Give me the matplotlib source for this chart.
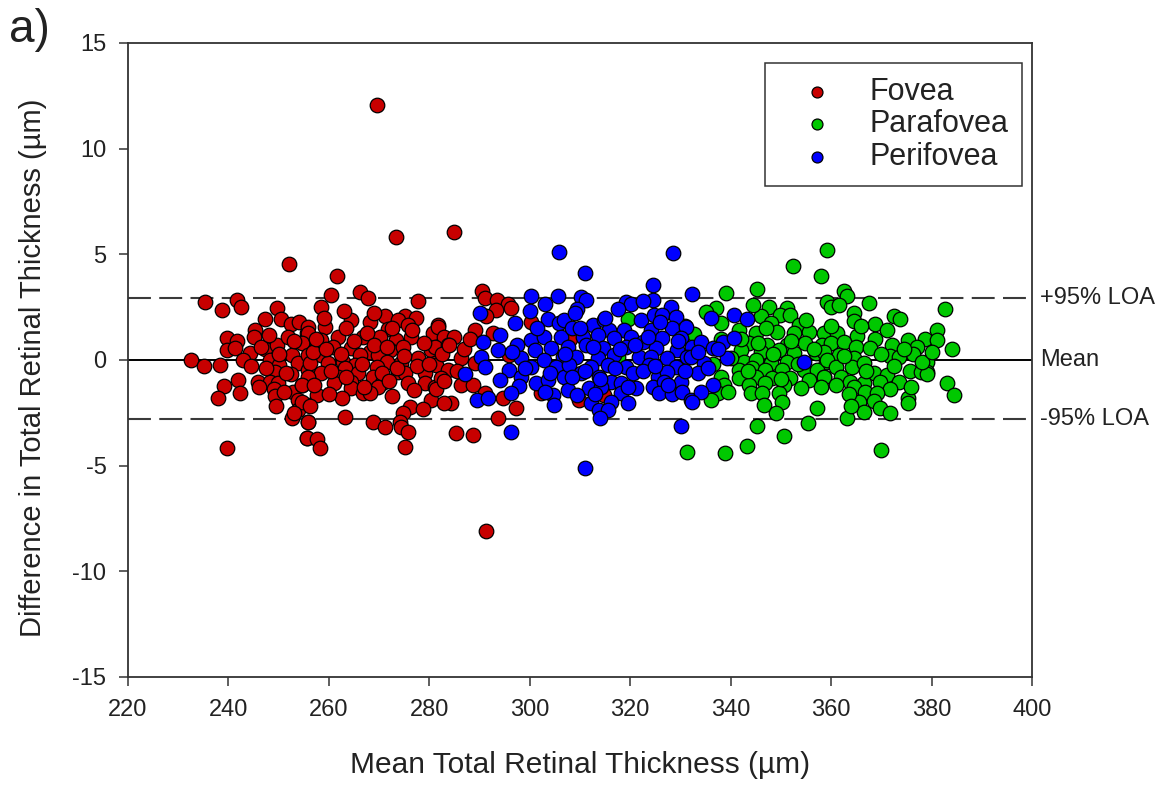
"""Bland-Altman plot of total retinal thickness by macular region."""

import matplotlib

matplotlib.use("Agg")
import matplotlib.pyplot as plt

plt.rcParams["font.family"] = ["Liberation Sans", "DejaVu Sans"]
plt.rcParams["axes.unicode_minus"] = False

# Fovea (red)
fovea_x = [
    252.0, 235.4, 241.7, 242.5, 238.7, 249.6, 247.3, 250.4, 252.5, 254.1, 245.3, 245.0,
    239.7, 241.7, 239.7, 241.3, 244.3, 247.2, 249.6, 251.8, 254.9, 255.6, 232.6, 235.2,
    238.3, 242.8, 248.3, 250.1, 252.6, 253.8, 249.3, 252.5, 255.9, 242.0, 239.2, 245.8,
    248.3, 249.9, 249.1, 252.9, 254.6, 242.3, 238.0, 249.3, 253.9, 255.9, 253.8, 252.7,
    255.9, 255.6, 239.7,
    273.4, 261.7, 260.5, 266.2, 267.7, 277.8, 258.4, 271.1, 275.1, 277.4, 264.5, 268.1,
    273.8, 275.8, 271.8, 281.7, 255.9, 259.2, 255.9, 261.9, 266.8, 270.1, 276.4, 280.7,
    258.5, 273.4, 254.6, 260.9, 264.5, 268.1, 272.1, 274.8, 280.4, 255.9, 258.5, 266.2,
    269.8, 277.8, 281.1, 256.2, 259.9, 262.9, 265.2, 271.5, 274.4, 263.2, 269.5, 273.8,
    258.5, 261.9, 265.8, 268.8, 275.1, 279.1, 255.9, 261.1, 264.5, 270.5, 275.8, 279.1,
    254.6, 264.5, 269.8, 281.1, 266.8, 257.7, 268.1, 272.5, 262.6, 280.4, 254.6, 256.2,
    276.1, 278.8, 274.8, 255.9, 263.2, 268.8, 271.1, 274.1, 274.4, 275.8, 255.6, 257.6,
    258.2, 275.2, 269.5,
    284.9, 290.5, 291.0, 293.5, 295.6, 293.3, 291.3, 296.3, 300.3, 281.7, 289.0, 283.0,
    285.0, 292.7, 281.1, 283.7, 286.4, 281.4, 283.7, 289.0, 295.9, 282.4, 286.4, 288.7,
    281.4, 302.3, 291.0, 284.4, 283.0, 294.6, 297.3, 293.7, 285.4, 288.7, 291.3,
    309.9, 314.8, 308.0,
    246.5, 248.0, 250.0, 251.5, 253.0, 256.8, 257.5, 259.5, 260.5, 262.5, 263.5, 265.0,
    266.5, 267.5, 269.0, 270.5, 271.5, 272.5, 273.5, 275.0, 276.5, 277.5, 279.0, 280.0,
    282.5, 284.0, 285.5, 287.0, 288.0, 247.5, 244.5, 246.0, 251.0, 257.0, 260.0, 263.5,
    267.0, 272.0, 277.0, 283.0, 259.0, 263.0, 269.0, 253.0, 249.5,
]
fovea_y = [
    4.54, 2.76, 2.84, 2.52, 2.37, 2.45, 1.93, 1.93, 1.69, 1.81, 1.42, 1.10,
    1.03, 0.90, 0.47, 0.55, 0.32, 0.50, 0.71, 1.07, 0.79, 1.26, 0.00, -0.28,
    -0.24, 0.00, 0.00, -0.24, 0.24, -0.16, -0.55, -0.66, -0.47, -0.95, -1.23, -1.03,
    -1.03, -1.07, -1.39, -1.50, -1.18, -1.58, -1.78, -1.70, -1.89, -2.13, -2.37, -2.76,
    -2.92, -3.71, -4.18,
    5.81, 3.98, 3.08, 3.23, 2.92, 2.81, 2.49, 2.08, 2.08, 1.97, 1.89, 1.81,
    1.89, 1.66, 1.45, 1.66, 1.58, 1.58, 1.26, 1.10, 1.10, 1.10, 1.10, 1.26,
    0.95, 0.95, 0.79, 0.63, 0.55, 0.39, 0.47, 0.63, 0.47, 0.24, 0.24, 0.24,
    0.24, 0.08, -0.16, -0.16, -0.16, -0.08, -0.24, -0.08, -0.16, -0.39, -0.32, -0.55,
    -0.63, -0.79, -0.63, -0.79, -0.63, -0.63, -0.79, -1.10, -1.03, -1.10, -1.07, -1.10,
    -1.18, -1.34, -1.26, -1.26, -1.58, -1.66, -1.58, -1.70, -1.81, -1.89, -1.97, -2.18,
    -2.21, -2.33, -2.52, -2.92, -2.68, -2.92, -3.19, -2.92, -3.16, -3.39, -3.71, -3.75,
    -4.18, -4.10, 12.07,
    6.07, 3.28, 2.92, 2.84, 2.65, 2.37, 2.08, 2.45, 1.81, 1.58, 1.42, 1.10,
    1.10, 1.26, 0.63, 0.71, 0.08, -0.24, -0.47, -0.16, 0.24, -0.87, -1.18, -1.18,
    -1.39, -1.58, -1.55, -2.02, -2.05, -1.81, -2.29, -2.73, -3.44, -3.55, -8.08,
    -1.89, -1.66, 1.00,
    0.60, 1.20, 0.30, -0.60, 0.90, 0.40, 1.00, 0.50, -0.50, 0.30, 1.50, 0.90,
    -0.20, 1.30, 0.70, -0.60, 0.60, 1.50, -0.40, 0.20, 1.40, -0.30, 0.80, -0.20,
    0.30, 0.70, -0.50, 0.50, 1.00, -0.40, -0.30, -1.30, -1.50, -1.20, -1.60, -0.80,
    -1.30, -1.00, -1.40, -1.00, 2.00, 2.30, 2.20, -2.50, -2.20,
]

# Parafovea (green)
parafovea_x = [
    319.5, 331.0, 332.7, 317.5, 325.5, 331.3,
    352.5, 359.2, 357.9, 339.0, 345.3, 359.2, 337.0, 335.0, 347.6, 351.3, 346.0, 349.9,
    351.9, 338.0, 348.0, 353.6, 341.7, 345.0, 349.3, 352.6, 355.6, 358.6, 343.6, 347.3,
    351.3, 354.9, 358.2, 342.0, 346.0, 349.6, 352.6, 356.9, 342.7, 345.0, 348.0, 351.3,
    358.9, 341.7, 344.3, 346.9, 350.2, 354.6, 357.2, 338.0, 341.7, 345.0, 348.3, 351.9,
    355.6, 358.6, 338.7, 343.6, 346.9, 350.6, 354.0, 337.4, 344.0, 346.3, 349.6, 336.0,
    350.2, 346.6, 357.2, 345.3, 355.3, 350.6, 343.2, 338.9,
    362.5, 363.1, 359.9, 361.5, 367.5, 382.7, 364.5, 372.5, 373.8, 364.6, 368.8, 381.1,
    371.1, 361.2, 365.2, 368.8, 375.4, 378.7, 381.1, 359.9, 362.5, 372.1, 377.1, 384.1,
    358.6, 361.5, 365.0, 367.8, 376.4, 371.8, 373.5, 359.2, 364.6, 379.1, 360.9, 364.2,
    366.5, 379.1, 375.8, 377.8, 358.6, 361.9, 368.5, 371.1, 379.1, 363.8, 366.5, 369.8,
    373.5, 383.1, 364.5, 371.7, 366.7, 369.2, 384.4, 375.4, 365.5, 368.5, 375.4, 366.5,
    369.7, 371.8, 363.2, 369.9,
    340.0, 342.0, 343.5, 345.5, 347.0, 348.5, 350.0, 352.0, 353.5, 355.0, 356.5, 358.0,
    360.0, 361.0, 362.5, 363.5, 366.0, 367.0, 370.0, 372.5, 374.5, 376.0, 338.0, 336.5,
    344.5, 349.0, 364.0, 378.0, 380.0, 339.5,
]
parafovea_y = [
    1.93, 1.60, 1.23, 0.16, -1.05, -4.34,
    4.45, 5.20, 3.98, 3.19, 3.34, 2.76, 2.45, 2.29, 2.49, 2.45, 2.08, 2.13,
    2.13, 1.74, 1.74, 1.66, 1.42, 1.26, 1.34, 1.26, 1.34, 1.26, 0.79, 0.71,
    0.71, 0.79, 0.71, 0.47, 0.39, 0.47, 0.32, 0.32, -0.08, 0.00, -0.16, -0.08,
    -0.08, -0.47, -0.39, -0.47, -0.47, -0.47, -0.47, -0.79, -0.87, -0.79, -0.87, -0.87,
    -0.95, -0.79, -1.18, -1.18, -1.10, -1.18, -1.34, -1.58, -1.58, -1.58, -1.58, -1.89,
    -1.97, -2.13, -2.29, -3.12, -3.00, -3.60, -4.07, -4.42,
    3.28, 3.03, 2.49, 2.60, 2.68, 2.40, 2.24, 2.08, 1.93, 1.86, 1.70, 1.42,
    1.42, 1.26, 1.14, 0.98, 0.95, 0.98, 0.95, 0.79, 0.87, 0.71, 0.63, 0.50,
    0.39, 0.24, 0.63, 0.55, 0.28, 0.19, 0.16, 0.00, 0.10, -0.08, -0.32, -0.32,
    -0.16, -0.55, -0.51, -0.55, -0.79, -0.79, -0.63, -0.71, -0.66, -1.03, -1.10, -1.03,
    -1.03, -1.10, -1.26, -1.39, -1.50, -1.58, -1.66, -1.81, -1.97, -1.93, -2.05, -2.45,
    -2.29, -2.49, -2.76, -4.26,
    0.10, 1.00, -0.50, 0.80, 1.50, 0.30, -0.90, 0.90, -0.20, 1.90, 0.50, -1.30,
    1.60, -1.20, 0.20, -1.60, 1.60, -0.50, 0.30, -0.30, 0.50, -1.30, 1.00, -0.20,
    2.60, -2.50, -2.20, -0.10, 0.40, -1.50,
]

# Perifovea (blue)
perifovea_x = [
    305.9, 300.3, 305.6, 303.1, 300.1, 290.0, 297.0, 303.6, 305.9, 294.0, 290.7, 297.5,
    300.3, 302.9, 306.2, 293.7, 301.0, 304.2, 290.3, 298.3, 302.9, 306.6, 291.0, 295.9,
    300.3, 305.3, 287.2, 294.0, 298.3, 301.3, 303.6, 306.9, 297.8, 296.2, 304.6, 289.4,
    291.7, 304.9, 296.2,
    328.6, 311.0, 324.5, 310.2, 311.2, 319.1, 320.1, 324.5, 332.4, 309.5, 328.1, 322.1,
    324.8, 326.4, 329.1, 306.9, 308.5, 312.5, 314.8, 315.8, 318.8, 324.1, 328.4, 331.1,
    310.5, 313.5, 316.8, 320.1, 322.5, 326.4, 330.1, 307.6, 311.2, 314.5, 319.1, 325.1,
    329.4, 332.4, 309.2, 313.5, 316.8, 321.8, 324.1, 327.4, 331.4, 307.9, 312.2, 315.5,
    319.1, 323.8, 329.1, 310.2, 313.8, 320.5, 325.5, 327.4, 316.2, 318.2, 324.5, 326.8,
    330.1, 307.6, 311.8, 314.2, 321.1, 318.2, 325.8, 328.4, 330.4, 332.1, 309.5, 312.1,
    316.2, 319.5, 313.8, 315.5, 314.0, 330.1, 311.0,
    336.0, 340.7, 343.3, 334.0, 338.4, 340.7, 336.4, 339.3, 332.1, 334.7, 333.4, 336.4,
    334.0, 354.6, 332.3,
    296.5, 299.0, 301.5, 304.0, 307.0, 308.5, 310.0, 311.0, 312.5, 314.0, 315.0, 317.0,
    318.0, 319.5, 321.0, 322.5, 323.5, 325.0, 326.0, 327.5, 329.5, 331.0, 333.5, 335.5,
    337.5, 303.0, 309.0, 317.5, 322.5, 313.0,
]
perifovea_y = [
    5.13, 3.03, 3.03, 2.65, 2.33, 2.21, 1.74, 1.93, 1.74, 1.18, 0.87, 0.71,
    0.95, 1.10, 1.10, 0.47, 0.47, 0.55, 0.16, 0.08, 0.00, 0.16, -0.32, -0.47,
    -0.32, -0.32, -0.66, -0.95, -0.79, -1.10, -0.95, -0.79, -1.23, -1.55, -1.66, -1.89,
    -1.81, -2.13, -3.39,
    5.08, 4.10, 3.55, 3.00, 2.84, 2.76, 2.65, 2.84, 3.12, 2.40, 2.49, 1.89,
    2.13, 2.13, 2.02, 1.89, 1.50, 1.66, 1.89, 1.42, 1.42, 1.42, 1.50, 1.58,
    1.10, 1.18, 1.03, 1.10, 0.87, 1.03, 1.03, 0.63, 0.71, 0.55, 0.63, 0.55,
    0.47, 0.63, 0.16, 0.08, 0.24, 0.16, 0.16, 0.08, 0.16, -0.24, -0.32, -0.24,
    -0.32, -0.24, -0.32, -0.63, -0.79, -0.63, -0.79, -0.55, -1.03, -1.10, -1.26, -1.03,
    -1.03, -1.42, -1.34, -1.26, -1.34, -1.58, -1.58, -1.61, -1.50, -1.89, -1.66, -2.05,
    -1.97, -2.05, -2.37, -2.37, -2.76, -3.12, -5.11,
    1.97, 2.13, 1.93, 0.87, 0.87, 1.03, 0.55, 0.08, 0.16, -0.16, -0.63, -1.18,
    -1.50, -0.08, -1.97,
    0.40, -0.40, 1.50, -0.60, 0.30, -0.80, 1.50, -0.50, 0.60, -0.90, 2.00, -0.40,
    0.50, -1.30, 0.70, -0.50, 1.10, -0.30, 1.80, -1.20, 0.90, -0.50, 0.40, -0.40,
    0.50, -1.50, 2.20, 2.40, 2.80, -1.60,
]

upper_loa = 2.95
mean_diff = 0.0
lower_loa = -2.8

RED = "#c80000"
GREEN = "#00c800"
BLUE = "#0000ff"

fig = plt.figure(figsize=(11.69, 7.87), dpi=100)
ax = fig.add_axes([0.1095, 0.1398, 0.7733, 0.8056])

style = dict(s=110, edgecolors="black", linewidths=0.9, zorder=3)
ax.scatter(fovea_x, fovea_y, c=RED, label="Fovea", **style)
ax.scatter(parafovea_x, parafovea_y, c=GREEN, label="Parafovea", **style)
ax.scatter(perifovea_x, perifovea_y, c=BLUE, label="Perifovea", **style)

ax.axhline(mean_diff, color="black", lw=1.4, zorder=2)
for level in (upper_loa, lower_loa):
    ax.axhline(level, color="#3a3a3a", lw=1.5, dashes=(11, 4), zorder=2)

for spine in ax.spines.values():
    spine.set_color("#333333")
    spine.set_linewidth(1.3)

ax.set_xlim(220, 400)
ax.set_ylim(-15, 15)
ax.set_xticks(range(220, 401, 20))
ax.set_yticks(range(-15, 16, 5))
ax.tick_params(direction="out", length=6.5, width=1.1, labelsize=17, pad=9,
               color="#333333", labelcolor="#222222")
ax.set_xlabel("Mean Total Retinal Thickness (µm)", fontsize=21.5, color="#222222")
ax.xaxis.set_label_coords(0.5, -0.117)
ax.set_ylabel("Difference in Total Retinal Thickness (µm)", fontsize=21, color="#222222")
ax.yaxis.set_label_coords(-0.090, 0.487)

for level, text in ((upper_loa, "+95% LOA"), (mean_diff, "Mean"), (lower_loa, "-95% LOA")):
    ax.text(1.009, (level + 15) / 30, text, transform=ax.transAxes,
            fontsize=17, va="center", ha="left", color="#222222")

fig.text(0.008, 0.947, "a)", fontsize=33, va="baseline", color="#222222")

leg = ax.legend(loc="upper right", bbox_to_anchor=(0.989, 0.968), borderaxespad=0,
                fontsize=22, markerscale=0.75, frameon=True, fancybox=False,
                edgecolor="black", borderpad=0.45, handlelength=2.5, handletextpad=0.46,
                labelspacing=0.08)
leg.get_frame().set_linewidth(1.1)
for txt in leg.get_texts():
    txt.set_color("#222222")

fig.savefig("out.png", dpi=100)
